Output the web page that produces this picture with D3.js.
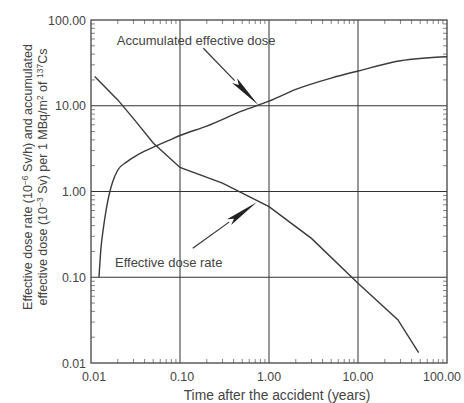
<!DOCTYPE html>
<html><head><meta charset="utf-8">
<script src="https://cdn.jsdelivr.net/npm/d3@7"></script>
<style>
html,body{margin:0;padding:0;background:#fff;}
svg{display:block;font-family:"Liberation Sans",Arial,Helvetica,sans-serif;}
</style></head>
<body><svg id="chart" width="464" height="403"></svg>
<script>
// ---- data ----
const rateYears = [0.011, 0.02, 0.031, 0.05, 0.1, 0.3, 1, 3, 10, 28, 48];
const rateValues = [22, 11.7, 6.8, 3.68, 1.91, 1.25, 0.665, 0.284, 0.085, 0.032, 0.0132];
const accumYears = [0.0123, 0.0129, 0.0138, 0.0146, 0.0163, 0.0175, 0.02, 0.025, 0.031, 0.04, 0.054, 0.075, 0.1, 0.2, 0.5, 1, 2, 5, 10, 30, 100];
const accumValues = [0.1, 0.21, 0.38, 0.56, 1.0, 1.29, 1.78, 2.2, 2.55, 2.95, 3.4, 3.95, 4.5, 5.8, 8.7, 11.3, 15.5, 21, 25.4, 33.5, 37.3];
const xTicks = [0.01, 0.1, 1, 10, 100];
const yTicks = [0.01, 0.1, 1, 10, 100];
const tickLabels = ["0.01", "0.10", "1.00", "10.00", "100.00"];
const annotLabels = ["Accumulated effective dose", "Effective dose rate"];
const annotLabelPos = [[0.0195, 51], [0.0186, 0.133]];
const arrowFrom = [[0.183, 46.8], [0.139, 0.218]];
const arrowTo = [[0.758, 10.2], [0.728, 0.748]];
const xTitle = "Time after the accident (years)";

// ---- layout ----
const L = 91, R = 447, T = 20, B = 363;
const svg = d3.select("#chart");
const x = d3.scaleLog().domain([0.01, 100]).range([L, R]);
const y = d3.scaleLog().domain([0.01, 100]).range([B, T]);
const ink = "#333";

// minor ticks
const minors = [];
for (let d = 0.01; d < 100; d *= 10) for (let k = 2; k <= 9; k++) minors.push(d * k);
const tl = 4;
const g = svg.append("g");
g.selectAll(".mb").data(minors).enter().append("line")
  .attr("x1", d => x(d)).attr("x2", d => x(d)).attr("y1", B).attr("y2", B - tl)
  .attr("stroke", "#666").attr("stroke-width", 0.8);
g.selectAll(".mt").data(minors).enter().append("line")
  .attr("x1", d => x(d)).attr("x2", d => x(d)).attr("y1", T).attr("y2", T + tl)
  .attr("stroke", "#666").attr("stroke-width", 0.8);
g.selectAll(".ml").data(minors).enter().append("line")
  .attr("y1", d => y(d)).attr("y2", d => y(d)).attr("x1", L).attr("x2", L + tl)
  .attr("stroke", "#666").attr("stroke-width", 0.8);
g.selectAll(".mr").data(minors).enter().append("line")
  .attr("y1", d => y(d)).attr("y2", d => y(d)).attr("x1", R).attr("x2", R - tl)
  .attr("stroke", "#666").attr("stroke-width", 0.8);

// grid
g.selectAll(".gx").data(xTicks.slice(1, -1)).enter().append("line")
  .attr("x1", d => x(d)).attr("x2", d => x(d)).attr("y1", T).attr("y2", B)
  .attr("stroke", ink).attr("stroke-width", 1);
g.selectAll(".gy").data(yTicks.slice(1, -1)).enter().append("line")
  .attr("y1", d => y(d)).attr("y2", d => y(d)).attr("x1", L).attr("x2", R)
  .attr("stroke", ink).attr("stroke-width", 1);

// frame
svg.append("rect").attr("x", L).attr("y", T).attr("width", R - L).attr("height", B - T)
  .attr("fill", "none").attr("stroke", "#444").attr("stroke-width", 1.3);

// axes labels
const xOff = [3, 2, 0, 0, -5];
svg.selectAll(".xl").data(xTicks).enter().append("text")
  .attr("x", (d, i) => x(d) + xOff[i]).attr("y", 381)
  .attr("text-anchor", "middle").attr("font-size", "12.4px").attr("fill", "#444")
  .text((d, i) => tickLabels[i]);
svg.selectAll(".yl").data(yTicks).enter().append("text")
  .attr("x", 86).attr("y", d => y(d) + 4.5)
  .attr("text-anchor", "end").attr("font-size", "12.4px").attr("fill", "#444")
  .text((d, i) => tickLabels[i]);

svg.append("text").attr("x", 277).attr("y", 400).attr("text-anchor", "middle")
  .attr("font-size", "13.8px").attr("fill", "#444").text(xTitle);

// y title, two lines with superscripts
function yTitleLine(cx, parts) {
  const t = svg.append("text").attr("transform", `translate(${cx},177) rotate(-90)`)
    .attr("text-anchor", "middle").attr("font-size", "12.5px").attr("fill", "#444");
  let prevSup = false;
  parts.forEach(p => {
    const ts = t.append("tspan").text(p.s);
    if (p.sup) { ts.attr("dy", -4.5).attr("font-size", "8.5px"); prevSup = true; }
    else if (prevSup) { ts.attr("dy", 4.5); prevSup = false; }
  });
}
yTitleLine(32, [{s: "Effective dose rate (10"}, {s: "\u22126", sup: true}, {s: " Sv/h) and accumulated"}]);
yTitleLine(47, [{s: "effective dose (10"}, {s: "\u22123", sup: true}, {s: " Sv) per 1 MBq/m"}, {s: "2", sup: true}, {s: " of "}, {s: "137", sup: true}, {s: "Cs"}]);

// curves
svg.append("path").datum(rateYears.map((v, i) => [v, rateValues[i]]))
  .attr("d", d3.line().x(d => x(d[0])).y(d => y(d[1])))
  .attr("fill", "none").attr("stroke", "#3a3a3a").attr("stroke-width", 1.4);
svg.append("path").datum(accumYears.map((v, i) => [v, accumValues[i]]))
  .attr("d", d3.line().x(d => x(d[0])).y(d => y(d[1])).curve(d3.curveMonotoneX))
  .attr("fill", "none").attr("stroke", "#3a3a3a").attr("stroke-width", 1.4);

// annotations
annotLabels.forEach((s, i) => {
  svg.append("text").attr("x", x(annotLabelPos[i][0])).attr("y", y(annotLabelPos[i][1]))
    .attr("font-size", "13px").attr("fill", "#444").text(s);
  const x1 = x(arrowFrom[i][0]), y1 = y(arrowFrom[i][1]);
  const x2 = x(arrowTo[i][0]), y2 = y(arrowTo[i][1]);
  const dx = x2 - x1, dy = y2 - y1, len = Math.hypot(dx, dy);
  const ux = dx / len, uy = dy / len, hl = 34, hw = 3.5;
  const bx = x2 - ux * hl, by = y2 - uy * hl;
  svg.append("line").attr("x1", x1).attr("y1", y1).attr("x2", bx).attr("y2", by)
    .attr("stroke", "#333").attr("stroke-width", 1.2);
  svg.append("path")
    .attr("d", `M${x2},${y2}L${bx - uy * hw},${by + ux * hw}L${bx + ux * 6},${by + uy * 6}L${bx + uy * hw},${by - ux * hw}Z`)
    .attr("fill", "#222");
});
</script></body></html>
